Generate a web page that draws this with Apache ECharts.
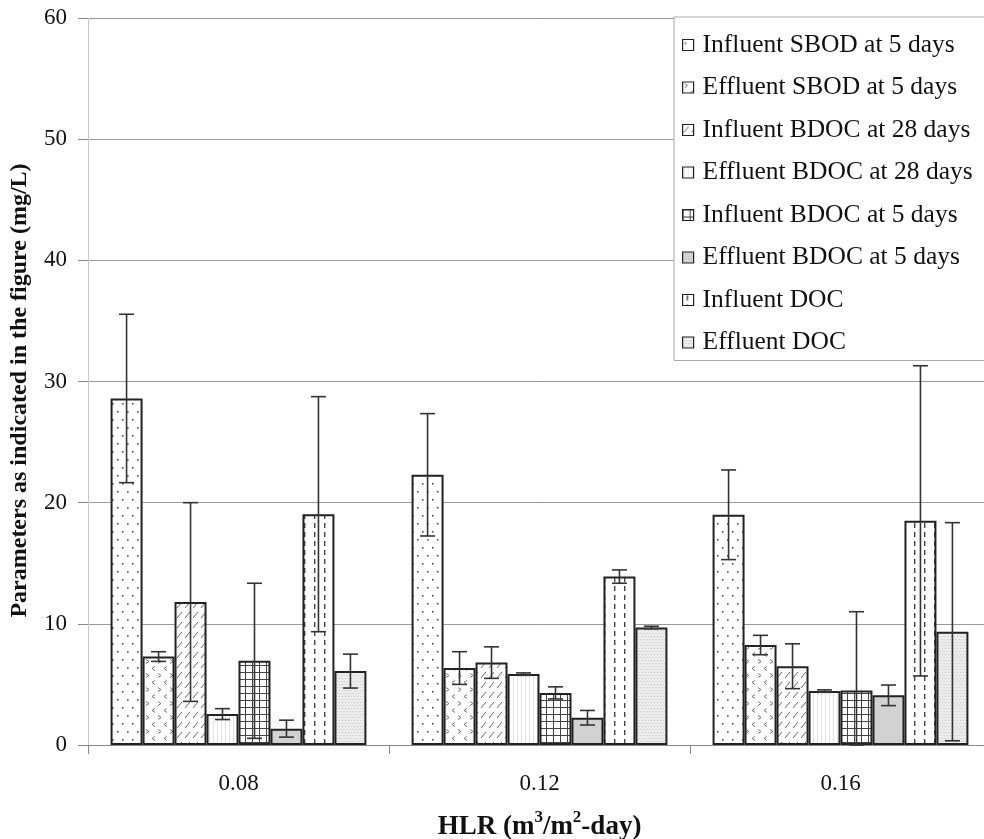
<!DOCTYPE html>
<html>
<head>
<meta charset="utf-8">
<script src="https://cdn.jsdelivr.net/npm/echarts@6/dist/echarts.min.js"></script>
<style>
html,body{margin:0;padding:0;background:#fff;}
#chart{width:984px;height:839px;}
</style>
</head>
<body>
<div id="chart"></div>
<script>
// ---- data ----
const categories = ['0.08', '0.12', '0.16'];
const seriesNames = [
  'Influent SBOD at 5 days',
  'Effluent SBOD at 5 days',
  'Influent BDOC at 28 days',
  'Effluent BDOC at 28 days',
  'Influent BDOC at 5 days',
  'Effluent BDOC at 5 days',
  'Influent DOC',
  'Effluent DOC'
];
const influentSBOD5 = [28.6, 22.3, 19.0];
const effluentSBOD5 = [7.3, 6.35, 8.25];
const influentBDOC28 = [11.8, 6.8, 6.5];
const effluentBDOC28 = [2.55, 5.85, 4.45];
const influentBDOC5 = [6.95, 4.3, 4.5];
const effluentBDOC5 = [1.35, 2.25, 4.1];
const influentDOC = [19.05, 13.9, 18.5];
const effluentDOC = [6.1, 9.7, 9.35];

const errInfluentSBOD5 = [6.95, 5.05, 3.7];
const errEffluentSBOD5 = [0.4, 1.35, 0.8];
const errInfluentBDOC28 = [8.2, 1.3, 1.85];
const errEffluentBDOC28 = [0.45, 0.1, 0.1];
const errInfluentBDOC5 = [6.4, 0.5, 6.5];
const errEffluentBDOC5 = [0.7, 0.6, 0.85];
const errInfluentDOC = [9.7, 0.55, 12.8];
const errEffluentDOC = [1.4, 0.1, 9.0];

const yTicks = {min: 0, max: 60, interval: 10};

const means = [influentSBOD5, effluentSBOD5, influentBDOC28, effluentBDOC28,
               influentBDOC5, effluentBDOC5, influentDOC, effluentDOC];
const errs = [errInfluentSBOD5, errEffluentSBOD5, errInfluentBDOC28, errEffluentBDOC28,
              errInfluentBDOC5, errEffluentBDOC5, errInfluentDOC, errEffluentDOC];

// ---- fill patterns ----
function makePattern(w, h, draw) {
  const c = document.createElement('canvas');
  c.width = w; c.height = h;
  const ctx = c.getContext('2d');
  ctx.fillStyle = '#fff';
  ctx.fillRect(0, 0, w, h);
  draw(ctx);
  return {image: c, repeat: 'repeat'};
}
const patterns = [
  // dots
  makePattern(10, 16, ctx => {
    ctx.fillStyle = '#555';
    ctx.fillRect(2, 3, 1.6, 1.6);
    ctx.fillRect(7, 11, 1.6, 1.6);
  }),
  // chevrons
  makePattern(12, 14, ctx => {
    ctx.strokeStyle = '#777'; ctx.lineWidth = 1;
    ctx.beginPath(); ctx.moveTo(2, 1.5); ctx.lineTo(5, 3.5); ctx.lineTo(2, 5.5); ctx.stroke();
    ctx.beginPath(); ctx.moveTo(11, 8.5); ctx.lineTo(8, 10.5); ctx.lineTo(11, 12.5); ctx.stroke();
  }),
  // short diagonal hatch
  makePattern(8, 10, ctx => {
    ctx.strokeStyle = '#666'; ctx.lineWidth = 1;
    ctx.beginPath(); ctx.moveTo(1, 8); ctx.lineTo(6, 2); ctx.stroke();
  }),
  // faint vertical lines
  makePattern(4, 4, ctx => {
    ctx.fillStyle = '#e2e2e2';
    ctx.fillRect(1, 0, 1, 4);
  }),
  // grid
  makePattern(7, 7, ctx => {
    ctx.fillStyle = '#444';
    ctx.fillRect(0, 0, 7, 1);
    ctx.fillRect(0, 0, 1, 7);
  }),
  // solid light gray
  makePattern(4, 4, ctx => {
    ctx.fillStyle = '#d2d2d2';
    ctx.fillRect(0, 0, 4, 4);
  }),
  // vertical dashes
  makePattern(10, 9, ctx => {
    ctx.fillStyle = '#444';
    ctx.fillRect(4, 1, 1.4, 5);
  }),
  // fine light texture
  makePattern(6, 6, ctx => {
    ctx.fillStyle = '#ececec';
    ctx.fillRect(0, 0, 6, 6);
    ctx.fillStyle = '#c6c6c6';
    ctx.fillRect(0, 0, 1, 1);
    ctx.fillRect(3, 0, 1, 1);
    ctx.fillRect(1.5, 3, 1, 1);
    ctx.fillRect(4.5, 3, 1, 1);
  })
];

const FONT = 'Liberation Serif';
const CAT_GAP = 0.15;

const barSeries = seriesNames.map((name, i) => ({
  name: name,
  type: 'bar',
  data: means[i],
  barGap: '0%',
  barCategoryGap: (CAT_GAP * 100) + '%',
  itemStyle: {color: patterns[i], borderColor: '#222', borderWidth: 2},
  emphasis: {disabled: true},
  z: 2
}));

const errData = [];
for (let s = 0; s < means.length; s++) {
  for (let c = 0; c < categories.length; c++) {
    errData.push([c, means[s][c], errs[s][c], s]);
  }
}

const errorSeries = {
  type: 'custom',
  name: 'err',
  data: errData,
  encode: {x: 0, y: 1},
  z: 5,
  silent: true,
  renderItem: function (params, api) {
    const cat = api.value(0), m = api.value(1), e = api.value(2), s = api.value(3);
    const base = api.coord([cat, m]);
    const band = api.size([1, 0])[0];
    const bw = band * (1 - CAT_GAP) / seriesNames.length;
    const x = base[0] - band * (1 - CAT_GAP) / 2 + (s + 0.5) * bw;
    const yTop = api.coord([cat, m + e])[1];
    const yBot = api.coord([cat, Math.max(0, m - e)])[1];
    const half = 7.5;
    const st = {stroke: '#333', lineWidth: 1.6};
    return {
      type: 'group',
      children: [
        {type: 'line', shape: {x1: x, y1: yTop, x2: x, y2: yBot}, style: st},
        {type: 'line', shape: {x1: x - half, y1: yTop, x2: x + half, y2: yTop}, style: st},
        {type: 'line', shape: {x1: x - half, y1: yBot, x2: x + half, y2: yBot}, style: st}
      ]
    };
  }
};

const chart = echarts.init(document.getElementById('chart'), null, {renderer: 'canvas'});
chart.setOption({
  animation: false,
  backgroundColor: '#fff',
  grid: {left: 88, top: 18, width: 903, height: 727, containLabel: false, outerBoundsMode: 'none'},
  legend: {
    data: seriesNames,
    orient: 'vertical',
    left: 674,
    top: 17,
    icon: 'rect',
    itemWidth: 11,
    itemHeight: 11,
    itemGap: 16.5,
    padding: [15, 40, 5, 8],
    backgroundColor: '#fff',
    borderColor: '#aaa',
    borderWidth: 1,
    itemStyle: {borderColor: '#222', borderWidth: 1.2},
    textStyle: {fontFamily: FONT, fontSize: 25.5, color: '#111', lineHeight: 24, padding: [0, 0, 0, 4]},
    selectedMode: false
  },
  xAxis: {
    type: 'category',
    data: categories,
    axisLine: {show: true, lineStyle: {color: '#888', width: 1}},
    axisTick: {show: true, length: 9, lineStyle: {color: '#888'}},
    axisLabel: {fontFamily: FONT, fontSize: 23, color: '#111', margin: 27},
    name: '{b|HLR (m}{s|3}{b|/m}{s|2}{b|-day)}',
    nameLocation: 'middle',
    nameGap: 64,
    nameTextStyle: {
      rich: {
        b: {fontFamily: FONT, fontSize: 27, fontWeight: 'bold', color: '#111', lineHeight: 36},
        s: {fontFamily: FONT, fontSize: 17, fontWeight: 'bold', color: '#111', lineHeight: 14, verticalAlign: 'top'}
      }
    }
  },
  yAxis: {
    type: 'value',
    min: yTicks.min,
    max: yTicks.max,
    interval: yTicks.interval,
    axisLine: {show: true, lineStyle: {color: '#c8c8c8', width: 1}},
    axisTick: {show: true, length: 10, lineStyle: {color: '#888'}},
    axisLabel: {fontFamily: FONT, fontSize: 23, color: '#111', margin: 21},
    splitLine: {show: true, lineStyle: {color: '#9a9a9a', width: 1}},
    name: 'Parameters as indicated in the figure (mg/L)',
    nameLocation: 'middle',
    nameGap: 56,
    nameTextStyle: {fontFamily: FONT, fontSize: 24, fontWeight: 'bold', color: '#111', padding: [0, 18, 0, 0]}
  },
  series: barSeries.concat([errorSeries])
});
</script>
</body>
</html>
